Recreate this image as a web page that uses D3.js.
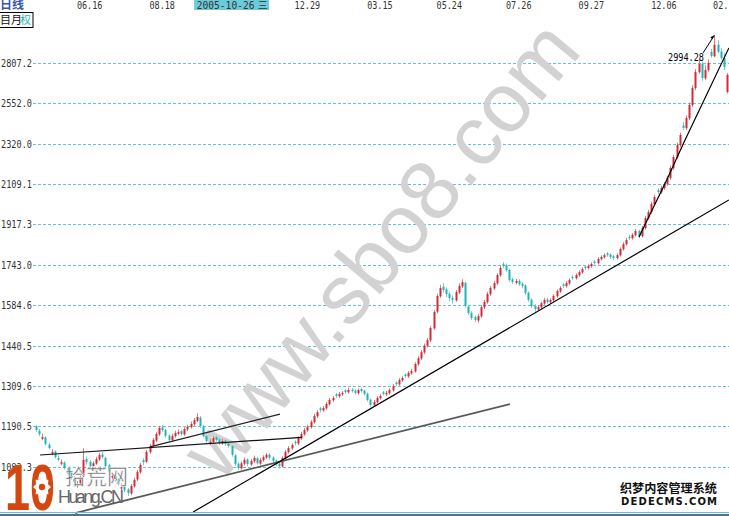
<!DOCTYPE html>
<html><head><meta charset="utf-8">
<script src="https://cdn.jsdelivr.net/npm/d3@7"></script>
<style>html,body{margin:0;padding:0;background:#fff;overflow:hidden}svg{display:block}</style>
</head><body>
<svg id="c" width="729" height="516"></svg>
<script>
// daily candles: [open, high, low, close]
const ohlc = [
[1190,1194,1175,1180],[1178,1183,1163,1169],[1156,1170,1152,1161],[1160,1163,1138,1142],[1140,1145,1127,1131],
[1116,1128,1112,1121],[1122,1125,1103,1107],[1105,1112,1096,1100],[1090,1101,1086,1094],[1093,1096,1075,1079],
[1078,1082,1060,1064],[1066,1070,1050,1054],[1052,1058,1040,1044],[1034,1046,1030,1039],[1040,1060,1036,1054],
[1058,1130,1055,1100],[1102,1108,1088,1094],[1095,1099,1080,1084],[1084,1096,1080,1091],[1090,1108,1087,1102],
[1101,1118,1097,1113],[1114,1120,1103,1107],[1105,1108,1080,1084],[1086,1090,1065,1069],[1055,1066,1050,1059],
[1060,1064,1045,1049],[1050,1053,1035,1039],[1028,1040,1024,1031],[1033,1036,1019,1024],[1026,1029,1010,1017],
[1016,1039,1012,1034],[1033,1054,1030,1049],[1050,1074,1046,1069],[1068,1092,1064,1087],[1099,1104,1086,1094],
[1095,1126,1092,1121],[1120,1142,1116,1137],[1138,1158,1133,1153],[1151,1174,1147,1169],[1168,1192,1164,1186],
[1188,1195,1175,1180],[1180,1184,1159,1164],[1165,1168,1148,1153],[1152,1170,1149,1164],[1163,1178,1159,1172],
[1170,1182,1166,1175],[1177,1181,1164,1169],[1168,1188,1164,1183],[1182,1195,1177,1189],[1188,1204,1184,1197],
[1196,1214,1192,1208],[1206,1228,1202,1217],[1215,1220,1186,1191],[1190,1194,1160,1164],[1163,1167,1145,1150],
[1143,1155,1139,1147],[1148,1163,1144,1158],[1160,1165,1149,1153],[1154,1158,1140,1144],[1143,1156,1139,1150],
[1151,1154,1137,1142],[1143,1147,1132,1137],[1136,1139,1108,1113],[1112,1115,1085,1089],[1090,1094,1074,1079],
[1078,1096,1075,1091],[1090,1106,1086,1100],[1101,1104,1084,1089],[1088,1102,1084,1097],[1096,1111,1092,1105],
[1104,1108,1087,1091],[1090,1105,1086,1100],[1099,1112,1095,1107],[1106,1118,1102,1113],[1114,1117,1100,1105],
[1106,1109,1092,1097],[1098,1101,1084,1089],[1090,1094,1078,1084],[1083,1109,1080,1105],[1104,1126,1101,1121],
[1120,1136,1116,1131],[1130,1144,1126,1139],[1148,1152,1138,1144],[1143,1163,1139,1158],[1157,1175,1153,1169],
[1168,1186,1164,1180],[1179,1195,1175,1189],[1188,1208,1184,1203],[1202,1226,1198,1220],[1219,1237,1214,1231],
[1242,1246,1230,1237],[1236,1249,1232,1243],[1242,1261,1238,1255],[1254,1273,1250,1267],[1266,1279,1261,1273],
[1284,1288,1273,1279],[1278,1291,1273,1285],[1284,1294,1279,1288],[1296,1300,1286,1291],[1290,1304,1286,1297],
[1298,1303,1289,1294],[1295,1299,1283,1288],[1287,1302,1283,1297],[1300,1304,1289,1294],[1295,1298,1280,1285],
[1286,1289,1262,1267],[1268,1271,1247,1252],[1251,1267,1247,1261],[1260,1278,1256,1273],[1272,1285,1268,1279],
[1290,1294,1280,1285],[1284,1294,1279,1288],[1287,1302,1283,1297],[1296,1315,1292,1309],[1320,1324,1310,1315],
[1314,1334,1310,1328],[1327,1340,1322,1334],[1345,1349,1335,1340],[1339,1356,1335,1350],[1349,1363,1344,1356],
[1355,1385,1351,1379],[1378,1405,1373,1398],[1397,1425,1392,1418],[1417,1447,1412,1440],[1439,1466,1434,1459],
[1458,1508,1452,1501],[1500,1566,1495,1559],[1560,1628,1555,1619],[1618,1662,1612,1650],[1655,1668,1633,1642],
[1645,1652,1615,1627],[1628,1635,1600,1611],[1612,1622,1590,1604],[1602,1642,1597,1634],[1632,1668,1626,1658],
[1656,1684,1650,1673],[1670,1675,1575,1581],[1580,1586,1548,1555],[1556,1562,1530,1537],[1540,1546,1522,1530],
[1528,1552,1520,1544],[1543,1584,1538,1577],[1576,1604,1570,1596],[1595,1635,1590,1627],[1626,1658,1620,1650],
[1648,1678,1642,1669],[1668,1708,1662,1701],[1700,1738,1694,1730],[1745,1754,1728,1738],[1740,1748,1714,1721],
[1722,1727,1674,1681],[1684,1690,1666,1673],[1670,1685,1664,1677],[1678,1684,1658,1665],[1667,1673,1650,1658],
[1660,1664,1624,1631],[1632,1636,1597,1604],[1605,1610,1574,1581],[1582,1588,1560,1570],[1568,1585,1562,1577],
[1576,1598,1570,1592],[1590,1612,1585,1604],[1606,1612,1590,1596],[1595,1610,1589,1604],[1603,1626,1598,1619],
[1618,1645,1612,1638],[1636,1657,1630,1650],[1664,1670,1650,1658],[1657,1676,1651,1669],[1668,1688,1662,1681],
[1694,1700,1682,1689],[1688,1708,1683,1701],[1700,1720,1694,1713],[1712,1732,1706,1725],[1736,1742,1722,1730],
[1729,1745,1723,1738],[1737,1753,1731,1746],[1756,1762,1743,1750],[1749,1774,1744,1767],[1766,1782,1760,1775],
[1774,1790,1768,1783],[1790,1796,1776,1783],[1786,1790,1768,1775],[1778,1783,1763,1771],[1770,1790,1765,1783],
[1782,1816,1777,1809],[1808,1838,1802,1830],[1829,1856,1823,1848],[1862,1870,1848,1856],[1855,1878,1849,1870],
[1869,1896,1863,1887],[1888,1893,1856,1865],[1864,1910,1858,1901],[1900,1955,1893,1946],[1945,1984,1938,1974],
[1973,2022,1966,2012],[2010,2056,2003,2045],[2078,2088,2058,2069],[2068,2100,2060,2089],[2088,2120,2080,2109],
[2108,2150,2100,2139],[2138,2202,2130,2190],[2189,2258,2180,2247],[2246,2325,2238,2312],[2310,2380,2300,2367],
[2420,2440,2395,2407],[2405,2478,2396,2464],[2462,2556,2452,2541],[2540,2662,2530,2645],[2644,2765,2632,2747],
[2745,2830,2735,2799],[2800,2815,2690,2708],[2706,2790,2696,2760],[2758,2830,2748,2806],[2880,2900,2840,2853],
[2850,2994.28,2842,2928],[2930,2960,2870,2880],[2882,2905,2828,2839],[2840,2870,2760,2780],[2620,2740,2610,2727]
];
const yTicks = [1082.3, 1190.5, 1309.6, 1440.5, 1584.6, 1743.0, 1917.3, 2109.1, 2320.0, 2552.0, 2807.2];
const dateLabels = ["06.16", "08.18", "12.29", "03.15", "05.24", "07.26", "09.27", "12.06", "02."];
const dateIndex = [17, 40, 86, 109, 131, 153, 176, 199, 217];
const cursorLabel = "2005-10-26 三";
const cursorIndex = 62;
// trend lines as [candle index, price] vertices
const trendLines = [
  [[1.3, 1112.6], [84.3, 1160]],
  [[36.1, 1134], [77.3, 1225]],
  [[12.4, 970.3], [150.2, 1254.8]],
  [[49.8, 972.6], [219.6, 2030.6]],
  [[191.1, 1861], [199.9, 2128.8], [205.7, 2339.6], [219.6, 2907]]
];
const trendColors = ["#111", "#222", "#5a5a5a", "#000", "#000"];
const trendWidths = [1.2, 1.2, 1.8, 1.2, 1.2];
const peakLabel = "2994.28";
const peakFrom = [211.4, 2873];
const peakTo = [215, 2994.28];

const svg = d3.select("#c");
const W = 729, H = 516;
const x = d3.scaleLinear().domain([0, ohlc.length - 1]).range([36, 727]);
const y = d3.scaleLog().domain([1082.3, 2807.2]).range([466.7, 62.7]);
const mono = "'DejaVu Sans Mono', 'Liberation Mono', monospace";

// grid
svg.append("g").selectAll("line").data(yTicks).join("line")
  .attr("x1", 33).attr("x2", W)
  .attr("y1", d => Math.round(y(d)) + 0.5).attr("y2", d => Math.round(y(d)) + 0.5)
  .attr("stroke", "#62c3d3").attr("stroke-dasharray", "3,2").attr("stroke-width", 1);

// y labels
svg.append("g").selectAll("text").data(yTicks).join("text")
  .attr("x", 32).attr("y", d => Math.round(y(d)) + 4)
  .attr("text-anchor", "end")
  .attr("font-family", mono).attr("font-size", 11).attr("fill", "#333")
  .attr("textLength", 31).attr("lengthAdjust", "spacingAndGlyphs")
  .text(d => d.toFixed(1));

// watermark
svg.append("text")
  .attr("transform", "translate(402,268) rotate(-50)")
  .attr("text-anchor", "middle")
  .attr("font-family", "'Liberation Sans', Arial, sans-serif")
  .attr("font-size", 84).attr("fill", "#d2d2d2")
  .text("www.sbo8.com");

// candles
const cg = svg.append("g");
const up = d => d[3] >= d[0];
cg.selectAll("line").data(ohlc).join("line")
  .attr("x1", (d, i) => Math.round(x(i)) + 0.5).attr("x2", (d, i) => Math.round(x(i)) + 0.5)
  .attr("y1", d => y(d[1])).attr("y2", d => y(d[2]))
  .attr("stroke", d => up(d) ? "#e07a70" : "#7ccaca").attr("stroke-width", 1);
cg.selectAll("rect").data(ohlc).join("rect")
  .attr("x", (d, i) => Math.round(x(i)) - 0.5).attr("width", 2)
  .attr("y", d => y(Math.max(d[0], d[3])))
  .attr("height", d => Math.max(1, Math.abs(y(d[0]) - y(d[3]))))
  .attr("fill", d => up(d) ? "#d22a36" : "#1eb4b4");

// trend lines
const lineGen = d3.line().x(p => x(p[0])).y(p => y(p[1]));
svg.append("g").selectAll("path").data(trendLines).join("path")
  .attr("d", lineGen).attr("fill", "none")
  .attr("stroke", (d, i) => trendColors[i]).attr("stroke-width", (d, i) => trendWidths[i]);

// peak annotation
svg.append("line")
  .attr("x1", x(peakFrom[0])).attr("y1", y(peakFrom[1]))
  .attr("x2", x(peakTo[0])).attr("y2", y(peakTo[1]))
  .attr("stroke", "#000").attr("stroke-width", 1);
const ax = x(peakTo[0]), ay = y(peakTo[1]);
svg.append("path").attr("d", `M${ax},${ay} l-4,2 l2,2 z`).attr("fill", "#000");
svg.append("text").attr("x", x(peakFrom[0]) + 1).attr("y", y(peakFrom[1]) + 8)
  .attr("text-anchor", "end").attr("font-family", mono).attr("font-size", 11).attr("fill", "#000")
  .attr("textLength", 36).attr("lengthAdjust", "spacingAndGlyphs").text(peakLabel);

// top header
const hdr = svg.append("g");
hdr.append("text").attr("x", 0).attr("y", 9).attr("font-family", "'Noto Sans CJK SC', sans-serif")
  .attr("font-size", 12).attr("font-weight", "bold").attr("fill", "#3a56a8").text("日线");
hdr.selectAll("text.d").data(dateLabels).join("text").attr("class", "d")
  .attr("x", (d, i) => x(dateIndex[i])).attr("y", 9).attr("text-anchor", "middle")
  .attr("font-family", mono).attr("font-size", 11).attr("fill", "#333")
  .attr("textLength", d => d.length * 5.1).attr("lengthAdjust", "spacingAndGlyphs")
  .text(d => d);
const cx0 = x(cursorIndex);
hdr.append("rect").attr("x", cx0 - 37.5).attr("y", 0).attr("width", 75).attr("height", 10).attr("fill", "#6ccbdb");
hdr.append("text").attr("x", cx0 - 35).attr("y", 9)
  .attr("font-family", mono).attr("font-size", 11).attr("fill", "#333")
  .attr("textLength", 58).attr("lengthAdjust", "spacingAndGlyphs").text("2005-10-26");
hdr.append("text").attr("x", cx0 + 26).attr("y", 9)
  .attr("font-family", "'Noto Sans CJK SC', sans-serif").attr("font-size", 10).attr("fill", "#333").text("三");
hdr.append("rect").attr("x", -5).attr("y", 12.5).attr("width", 38).attr("height", 15)
  .attr("fill", "#fff").attr("stroke", "#000");
hdr.append("text").attr("x", 0).attr("y", 24).attr("font-family", "'Noto Sans CJK SC', sans-serif")
  .attr("font-size", 11).attr("fill", "#111").text("目月");
hdr.append("text").attr("x", 20).attr("y", 24).attr("font-family", "'Noto Sans CJK SC', sans-serif")
  .attr("font-size", 11).attr("fill", "#1fb0c4").text("权");

// bottom band
svg.append("line").attr("x1", 0).attr("x2", W).attr("y1", 512.5).attr("y2", 512.5).attr("stroke", "#5cc0d8");
svg.append("rect").attr("x", 0).attr("y", 514).attr("width", W).attr("height", 2).attr("fill", "#5b6b8c");

// logo bottom-left
const lg = svg.append("g");
lg.append("text").attr("x", 5).attr("y", 510)
  .attr("font-family", "'Liberation Sans', Arial, sans-serif").attr("font-weight", "bold")
  .attr("font-size", 64).attr("fill", "#d4480f")
  .attr("textLength", 50).attr("lengthAdjust", "spacingAndGlyphs").text("10");
const gcx = 42, gcy = 487;
const gear = [];
for (let k = 0; k < 16; k++) {
  const a = k * Math.PI / 8, r = k % 2 === 0 ? 9 : 6.5;
  gear.push([gcx + r * Math.cos(a), gcy + r * Math.sin(a) * 1.15]);
}
lg.append("path").attr("d", d3.line().curve(d3.curveLinearClosed)(gear)).attr("fill", "#fff");
lg.append("circle").attr("cx", gcx).attr("cy", gcy).attr("r", 3.2).attr("fill", "#d4480f");
lg.append("text").attr("x", 65).attr("y", 484)
  .attr("font-family", "'Noto Sans CJK SC', sans-serif").attr("font-size", 21)
  .attr("fill", "#666").attr("stroke", "#fff").attr("stroke-width", 0.5)
  .attr("textLength", 63).text("拾荒网");
lg.append("text").attr("x", 58).attr("y", 503)
  .attr("font-family", "'Liberation Sans', Arial, sans-serif").attr("font-size", 18)
  .attr("fill", "#666").attr("textLength", 66).text("Huang.CN");

// logo bottom-right
const rg = svg.append("g");
rg.append("text").attr("x", 620).attr("y", 493)
  .attr("font-family", "'Noto Sans CJK SC', sans-serif").attr("font-size", 12).attr("font-weight", "bold")
  .attr("fill", "#111").attr("stroke", "#fff").attr("stroke-width", 2).attr("paint-order", "stroke")
  .attr("textLength", 97).attr("lengthAdjust", "spacingAndGlyphs").text("织梦内容管理系统");
rg.append("text").attr("x", 621).attr("y", 505)
  .attr("font-family", "'DejaVu Sans', sans-serif").attr("font-size", 10).attr("font-weight", "bold")
  .attr("fill", "#111").attr("stroke", "#fff").attr("stroke-width", 2).attr("paint-order", "stroke")
  .attr("textLength", 96).attr("lengthAdjust", "spacing").text("DEDECMS.COM");
</script>
</body></html>
